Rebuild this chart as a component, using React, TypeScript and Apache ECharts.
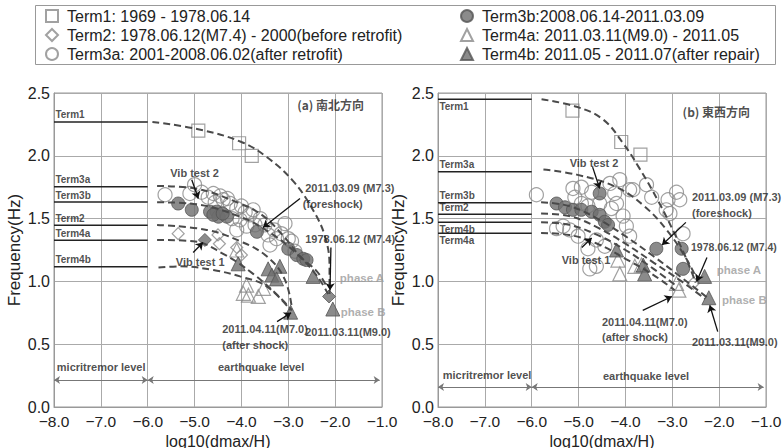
import React, { useEffect, useRef } from 'react';
import * as echarts from 'echarts';

const legendLeftNames = ['Term1', 'Term2', 'Term3a'];
const legendRightNames = ['Term3b', 'Term4a', 'Term4b'];
const legendTexts: Record<string, string> = {
  Term1: 'Term1: 1969 - 1978.06.14',
  Term2: 'Term2: 1978.06.12(M7.4) - 2000(before retrofit)',
  Term3a: 'Term3a: 2001-2008.06.02(after retrofit)',
  Term3b: 'Term3b:2008.06.14-2011.03.09',
  Term4a: 'Term4a: 2011.03.11(M9.0) - 2011.05',
  Term4b: 'Term4b: 2011.05 - 2011.07(after repair)',
};

const xTicks = [-8, -7, -6, -5, -4, -3, -2, -1];
const yTicks = [0, 0.5, 1.0, 1.5, 2.0, 2.5];

// ---------- (a) 南北方向 ----------
const nsTerm1 = [[-4.92, 2.2], [-4.05, 2.1], [-3.78, 2.0]];
const nsTerm2 = [[-5.35, 1.38], [-4.5, 1.37], [-4.47, 1.3], [-4.1, 1.27], [-4.0, 1.21]];
const nsTerm3a = [
  [-5.63, 1.69], [-5.0, 1.77], [-5.1, 1.7], [-4.85, 1.71], [-4.71, 1.67], [-4.56, 1.63], [-4.39, 1.65],
  [-4.24, 1.62], [-4.1, 1.58], [-3.92, 1.55], [-3.82, 1.53], [-4.03, 1.49], [-4.1, 1.41], [-3.89, 1.44],
  [-3.71, 1.45], [-3.43, 1.37], [-3.39, 1.29], [-3.25, 1.34], [-3.07, 1.46], [-2.93, 1.32], [-2.86, 1.24],
  [-4.6, 1.7], [-4.45, 1.68], [-4.3, 1.66], [-4.0, 1.6], [-3.75, 1.57], [-3.6, 1.5], [-3.5, 1.45],
  [-3.3, 1.41], [-3.15, 1.38], [-3.0, 1.34], [-4.2, 1.5],
];
const nsTerm3b = [
  [-5.35, 1.62], [-5.06, 1.57], [-4.67, 1.555], [-4.53, 1.555], [-4.49, 1.515], [-4.31, 1.515],
  [-4.6, 1.53], [-4.4, 1.54], [-3.67, 1.395], [-3.0, 1.26], [-2.82, 1.21], [-2.68, 1.18], [-2.61, 1.17],
];
const nsTerm4a = [[-4.1, 1.25], [-3.89, 0.97], [-3.96, 0.905], [-3.85, 0.89], [-3.64, 0.88], [-3.53, 0.945]];
const nsTerm4b = [
  [-4.07, 1.14], [-3.43, 1.1], [-3.18, 1.12], [-3.35, 1.05], [-3.25, 1.02], [-2.47, 1.04], [-2.95, 0.755], [-2.05, 0.78],
];
const nsSpecial = [[-4.78, 1.33], [-2.13, 0.88]];

const nsLevelNames = ['Term1', 'Term3a', 'Term3b', 'Term2', 'Term4a', 'Term4b'];
const nsLevels = [2.27, 1.754, 1.632, 1.447, 1.327, 1.117];
const nsLabelSide = [-1, -1, -1, -1, -1, -1];

const nsCurveTerm1 = [[-5.9, 2.27], [-4.9, 2.21], [-4.0, 2.11], [-3.46, 1.99], [-2.9, 1.8], [-2.46, 1.56], [-2.21, 1.35], [-2.12, 1.12], [-2.12, 0.9]];
const nsCurveTerm3a = [[-5.8, 1.76], [-5.0, 1.74], [-4.03, 1.62], [-3.53, 1.52], [-3.1, 1.36], [-2.75, 1.2], [-2.39, 1.08], [-2.18, 0.96]];
const nsCurveTerm3b = [[-5.8, 1.63], [-5.1, 1.62], [-4.03, 1.515], [-3.32, 1.37], [-2.82, 1.22], [-2.4, 1.05], [-2.15, 0.9]];
const nsCurveTerm2 = [[-5.8, 1.45], [-4.74, 1.41], [-4.03, 1.32], [-3.46, 1.2], [-3.08, 1.02], [-2.92, 0.78]];
const nsCurveTerm4a = [[-5.8, 1.33], [-5.03, 1.32], [-4.39, 1.22], [-3.75, 1.06], [-3.2, 0.88], [-2.92, 0.77]];
const nsCurveTerm4b = [[-5.77, 1.11], [-5.3, 1.12], [-4.6, 1.09], [-4.03, 1.04], [-3.46, 0.96], [-2.95, 0.77]];

const nsTexts = [
  { name: 'Vib test 2', value: [-5.52, 1.86] },
  { name: '2011.03.09 (M7.3)', value: [-2.64, 1.74] },
  { name: '(foreshock)', value: [-2.69, 1.62] },
  { name: '1978.06.12 (M7.4)', value: [-2.64, 1.34] },
  { name: 'Vib test 1', value: [-5.4, 1.155] },
  { name: '2011.04.11(M7.0)', value: [-4.41, 0.62] },
  { name: '(after shock)', value: [-4.41, 0.49] },
  { name: '2011.03.11(M9.0)', value: [-2.64, 0.6] },
  { name: 'micritremor level', value: [-7.94, 0.32] },
  { name: 'earthquake level', value: [-4.5, 0.32] },
];
const nsPhaseTexts = [
  { name: 'phase A', value: [-1.9, 1.03] },
  { name: 'phase B', value: [-1.88, 0.76] },
];
const nsTitle = [{ name: '(a) 南北方向', value: [-2.81, 2.41] }];
const nsArrows = [
  [[-5.06, 1.81], [-4.92, 1.66]],
  [[-2.75, 1.66], [-3.54, 1.43]],
  [[-2.09, 1.27], [-2.11, 0.93]],
  [[-5.03, 1.23], [-4.82, 1.31]],
  [[-3.24, 0.68], [-2.94, 0.75]],
];
const nsRanges = [
  [[-8, 0.215], [-6, 0.215]],
  [[-6, 0.215], [-1.05, 0.215]],
];

// ---------- (b) 東西方向 ----------
const ewTerm1 = [[-5.13, 2.36], [-4.09, 2.11], [-3.68, 2.01]];
const ewTerm2 = [[-2.55, 0.985]];
const ewTerm3a = [
  [-5.9, 1.69], [-5.12, 1.74], [-4.94, 1.75], [-4.72, 1.71], [-4.33, 1.78], [-4.12, 1.81], [-3.91, 1.73],
  [-3.55, 1.77], [-3.44, 1.67], [-3.09, 1.65], [-2.91, 1.71], [-2.84, 1.65], [-4.23, 1.7], [-4.19, 1.62],
  [-5.08, 1.67], [-4.94, 1.62], [-4.05, 1.52], [-3.98, 1.44], [-5.47, 1.42], [-5.19, 1.41], [-5.01, 1.36],
  [-4.62, 1.33], [-4.44, 1.28], [-3.91, 1.36], [-2.77, 1.38], [-3.13, 1.57], [-3.05, 1.54], [-4.62, 1.12],
  [-4.8, 1.26], [-3.84, 1.73], [-4.76, 1.1], [-5.33, 1.44], [-4.55, 1.62], [-4.8, 1.6], [-4.3, 1.58],
];
const ewTerm3b = [
  [-5.47, 1.62], [-5.29, 1.59], [-5.12, 1.57], [-4.94, 1.57], [-4.72, 1.555], [-4.55, 1.53], [-4.44, 1.475],
  [-4.37, 1.45], [-4.55, 1.7], [-3.34, 1.26], [-2.8, 1.26], [-2.77, 1.1],
];
const ewTerm4a = [[-4.16, 1.17], [-4.12, 1.06], [-3.8, 1.12], [-3.66, 1.13], [-2.91, 0.985], [-2.86, 0.93]];
const ewTerm4b = [[-4.19, 1.25], [-3.62, 1.13], [-3.59, 1.06], [-2.31, 1.04], [-2.22, 0.87]];

const ewLevelNames = ['Term1', 'Term3a', 'Term3b', 'Term2', 'Term4b', 'Term4a'];
const ewLevels = [2.45, 1.873, 1.627, 1.534, 1.47, 1.383];
const ewLabelSide = [1, -1, -1, -1, 1, 1];

const ewCurveTerm1 = [[-5.79, 2.45], [-5.04, 2.39], [-4.48, 2.29], [-4.05, 2.1], [-3.7, 1.9], [-3.3, 1.64], [-2.95, 1.38], [-2.7, 1.18], [-2.5, 0.99]];
const ewCurveTerm3a = [[-5.75, 1.89], [-5.04, 1.85], [-4.19, 1.75], [-3.6, 1.6], [-3.1, 1.4], [-2.7, 1.18], [-2.45, 1.0]];
const ewCurveTerm3b = [[-5.8, 1.63], [-5.2, 1.6], [-4.6, 1.5], [-4.0, 1.36], [-3.4, 1.2], [-2.8, 1.03], [-2.25, 0.87]];
const ewCurveTerm2 = [[-5.8, 1.54], [-5.2, 1.52], [-4.6, 1.43], [-4.0, 1.3], [-3.4, 1.15], [-2.8, 1.0], [-2.3, 0.86]];
const ewCurveTerm4b = [[-5.8, 1.47], [-5.2, 1.45], [-4.6, 1.37], [-4.0, 1.25], [-3.4, 1.1], [-2.9, 0.96]];
const ewCurveTerm4a = [[-5.8, 1.385], [-5.2, 1.37], [-4.6, 1.3], [-4.0, 1.18], [-3.4, 1.05], [-2.95, 0.93]];

const ewTexts = [
  { name: 'Vib test 2', value: [-5.19, 1.94] },
  { name: '2011.03.09 (M7.3)', value: [-2.58, 1.67] },
  { name: '(foreshock)', value: [-2.58, 1.545] },
  { name: '1978.06.12 (M7.4)', value: [-2.6, 1.27], label: { fontSize: 10.5 } },
  { name: 'Vib test 1', value: [-5.36, 1.17] },
  { name: '2011.04.11(M7.0)', value: [-4.5, 0.68] },
  { name: '(after shock)', value: [-4.5, 0.56] },
  { name: '2011.03.11(M9.0)', value: [-2.58, 0.52] },
  { name: 'micritremor level', value: [-7.9, 0.255] },
  { name: 'earthquake level', value: [-4.48, 0.25] },
];
const ewPhaseTexts = [
  { name: 'phase A', value: [-2.05, 1.09] },
  { name: 'phase B', value: [-1.94, 0.85] },
];
const ewTitle = [{ name: '(b) 東西方向', value: [-2.78, 2.35] }];
const ewArrows = [
  [[-4.7, 1.91], [-4.55, 1.74]],
  [[-2.71, 1.47], [-3.22, 1.29]],
  [[-2.26, 1.19], [-2.48, 1.0]],
  [[-4.93, 1.27], [-4.72, 1.345]],
  [[-3.63, 0.77], [-3.01, 0.88]],
  [[-2.03, 0.6], [-2.2, 0.81]],
];
const ewRanges = [
  [[-8, 0.16], [-6, 0.16]],
  [[-6, 0.16], [-1.05, 0.16]],
];

const FONT = '"Liberation Sans", Arial, sans-serif';
const openStyle = { color: 'rgba(255,255,255,0)', borderColor: '#8a8a8a', borderWidth: 1.2 };
const fillStyle = { color: '#6e6e6e', borderColor: '#555', borderWidth: 1 };
const fmtTick = (v: number) => (v < 0 ? '\u2212' : '') + Math.abs(v).toFixed(1);

function buildPanel(idx: number, d: any) {
  const ax = { xAxisIndex: idx, yAxisIndex: idx };
  const series: any[] = [];
  const sc = (name: string, data: number[][], symbol: string, size: number, style: any, z = 3) => ({
    type: 'scatter', name, data, symbol, symbolSize: size, itemStyle: style, z, ...ax,
  });
  series.push(sc('Term3a', d.t3a, 'circle', 14, openStyle));
  series.push(sc('Term1', d.t1, 'rect', 13, openStyle));
  series.push(sc('Term2', d.t2, 'diamond', 12, openStyle));
  series.push(sc('Term4a', d.t4a, 'triangle', 14, openStyle));
  series.push(sc('Term3b', d.t3b, 'circle', 13, fillStyle, 4));
  series.push(sc('Term4b', d.t4b, 'triangle', 14, fillStyle, 4));
  if (d.special) series.push({ ...sc('special', d.special, 'diamond', 13, fillStyle, 4) });
  d.levels.forEach((lv: number, i: number) => {
    series.push({
      type: 'line', name: 'lv' + i, data: [[-8, lv], [-6, lv]], symbol: 'none', silent: true,
      lineStyle: { color: '#222', width: 1.5 }, z: 2, ...ax,
    });
  });
  series.push({
    type: 'scatter', name: 'lvlabels', symbolSize: 0, silent: true, z: 5, ...ax,
    data: d.levels.map((lv: number, i: number) => ({
      name: d.levelNames[i], value: [-7.97, lv],
      label: { offset: [0, d.sides[i] * 7] },
    })),
    label: {
      show: true, position: 'right', distance: 0, formatter: '{b}',
      fontSize: 10, fontWeight: 'bold', fontFamily: FONT, color: '#222',
    },
  });
  d.curves.forEach((c: number[][], i: number) => {
    series.push({
      type: 'line', name: 'curve' + i, data: c, smooth: 0.4, symbol: 'none', silent: true, z: 6,
      lineStyle: { color: '#4a4a4a', width: 2, type: [7, 4] }, ...ax,
    });
  });
  series.push({
    type: 'scatter', name: 'texts', symbolSize: 0, silent: true, data: d.texts, z: 8, ...ax,
    label: { show: true, position: 'right', distance: 0, formatter: '{b}', fontSize: 11, fontWeight: 'bold', fontFamily: FONT, color: '#222' },
  });
  series.push({
    type: 'scatter', name: 'phases', symbolSize: 0, silent: true, data: d.phases, z: 8, ...ax,
    label: { show: true, position: 'right', distance: 0, formatter: '{b}', fontSize: 11.5, fontWeight: 'bold', fontFamily: FONT, color: '#9a9a9a' },
  });
  series.push({
    type: 'scatter', name: 'title', symbolSize: 0, silent: true, data: d.title, z: 8, ...ax,
    label: { show: true, position: 'right', distance: 0, formatter: '{b}', fontSize: 12, fontWeight: 'bold', fontFamily: '"Noto Sans CJK JP", sans-serif', color: '#222' },
  });
  series.push({
    type: 'lines', name: 'arrows', coordinateSystem: 'cartesian2d', silent: true, z: 9, ...ax,
    symbol: ['none', 'arrow'], symbolSize: 7,
    lineStyle: { color: '#111', width: 1.3, opacity: 1 },
    data: d.arrows.map((a: number[][]) => ({ coords: a })),
  });
  series.push({
    type: 'lines', name: 'ranges', coordinateSystem: 'cartesian2d', silent: true, z: 9, ...ax,
    symbol: ['arrow', 'arrow'], symbolSize: 6,
    lineStyle: { color: '#777', width: 1, opacity: 1 },
    data: d.ranges.map((a: number[][]) => ({ coords: a })),
  });
  return series;
}

export default function App() {
  const ref = useRef<HTMLDivElement>(null);
  useEffect(() => {
    document.body.style.margin = '0';
    const chart = echarts.init(ref.current!, null, { renderer: 'svg' });
    const mkX = (gi: number) => ({
      type: 'value', gridIndex: gi, min: -8, max: -1, interval: 1,
      name: 'log10(dmax/H)', nameLocation: 'middle', nameGap: 20,
      nameTextStyle: { fontSize: 16, fontFamily: FONT, color: '#222', verticalAlign: 'top', lineHeight: 16 },
      axisLine: { show: true, onZero: false, lineStyle: { color: '#999' } },
      axisTick: { show: false },
      axisLabel: { fontSize: 15.5, lineHeight: 12, fontFamily: FONT, color: '#222', margin: 8, formatter: fmtTick, customValues: xTicks },
      splitLine: { show: true, lineStyle: { color: '#aaa', width: 1 } },
    });
    const mkY = (gi: number) => ({
      type: 'value', gridIndex: gi, min: 0, max: 2.5, interval: 0.5,
      name: 'Frequency(Hz)', nameLocation: 'middle', nameGap: 31,
      nameTextStyle: { fontSize: 17, fontFamily: FONT, color: '#222' },
      axisLine: { show: true, lineStyle: { color: '#999' } },
      axisTick: { show: false },
      axisLabel: { fontSize: 16, fontFamily: FONT, color: '#222', margin: 4, padding: [0, 0, 4, 0], formatter: (v: number) => v.toFixed(1), customValues: yTicks },
      splitLine: { show: true, lineStyle: { color: '#aaa', width: 1 } },
    });
    const legendBase = {
      orient: 'vertical', top: 3, itemGap: 3, itemWidth: 12, itemHeight: 12,
      textStyle: { fontSize: 16, fontFamily: FONT, color: '#222', padding: [0, 0, 0, 4] },
      formatter: (n: string) => legendTexts[n], selectedMode: false,
    };
    const ns = {
      t1: nsTerm1, t2: nsTerm2, t3a: nsTerm3a, t3b: nsTerm3b, t4a: nsTerm4a, t4b: nsTerm4b, special: nsSpecial,
      levels: nsLevels, levelNames: nsLevelNames, sides: nsLabelSide,
      curves: [nsCurveTerm1, nsCurveTerm3a, nsCurveTerm3b, nsCurveTerm2, nsCurveTerm4a, nsCurveTerm4b],
      texts: nsTexts, phases: nsPhaseTexts, title: nsTitle, arrows: nsArrows, ranges: nsRanges,
    };
    const ew = {
      t1: ewTerm1, t2: ewTerm2, t3a: ewTerm3a, t3b: ewTerm3b, t4a: ewTerm4a, t4b: ewTerm4b, special: null,
      levels: ewLevels, levelNames: ewLevelNames, sides: ewLabelSide,
      curves: [ewCurveTerm1, ewCurveTerm3a, ewCurveTerm3b, ewCurveTerm2, ewCurveTerm4b, ewCurveTerm4a],
      texts: ewTexts, phases: ewPhaseTexts, title: ewTitle, arrows: ewArrows, ranges: ewRanges,
    };
    chart.setOption({
      animation: false,
      backgroundColor: '#fff',
      grid: [
        { left: 54, right: 401, top: 93, bottom: 41, show: true, borderColor: '#999', borderWidth: 1, outerBoundsMode: 'none', containLabel: false },
        { left: 438, right: 17, top: 93, bottom: 41, show: true, borderColor: '#999', borderWidth: 1, outerBoundsMode: 'none', containLabel: false },
      ],
      xAxis: [mkX(0), mkX(1)],
      yAxis: [mkY(0), mkY(1)],
      legend: [
        { ...legendBase, left: 40, data: legendLeftNames },
        { ...legendBase, left: 455, data: legendRightNames },
      ],
      graphic: [
        { type: 'rect', left: 33, top: 3, shape: { width: 740, height: 59 }, style: { fill: 'none', stroke: '#999', lineWidth: 1 }, silent: true },
      ],
      series: [...buildPanel(0, ns), ...buildPanel(1, ew)],
    });
    return () => chart.dispose();
  }, []);
  return <div ref={ref} style={{ width: 783, height: 448, position: 'fixed', left: 0, top: 0 }} />;
}
